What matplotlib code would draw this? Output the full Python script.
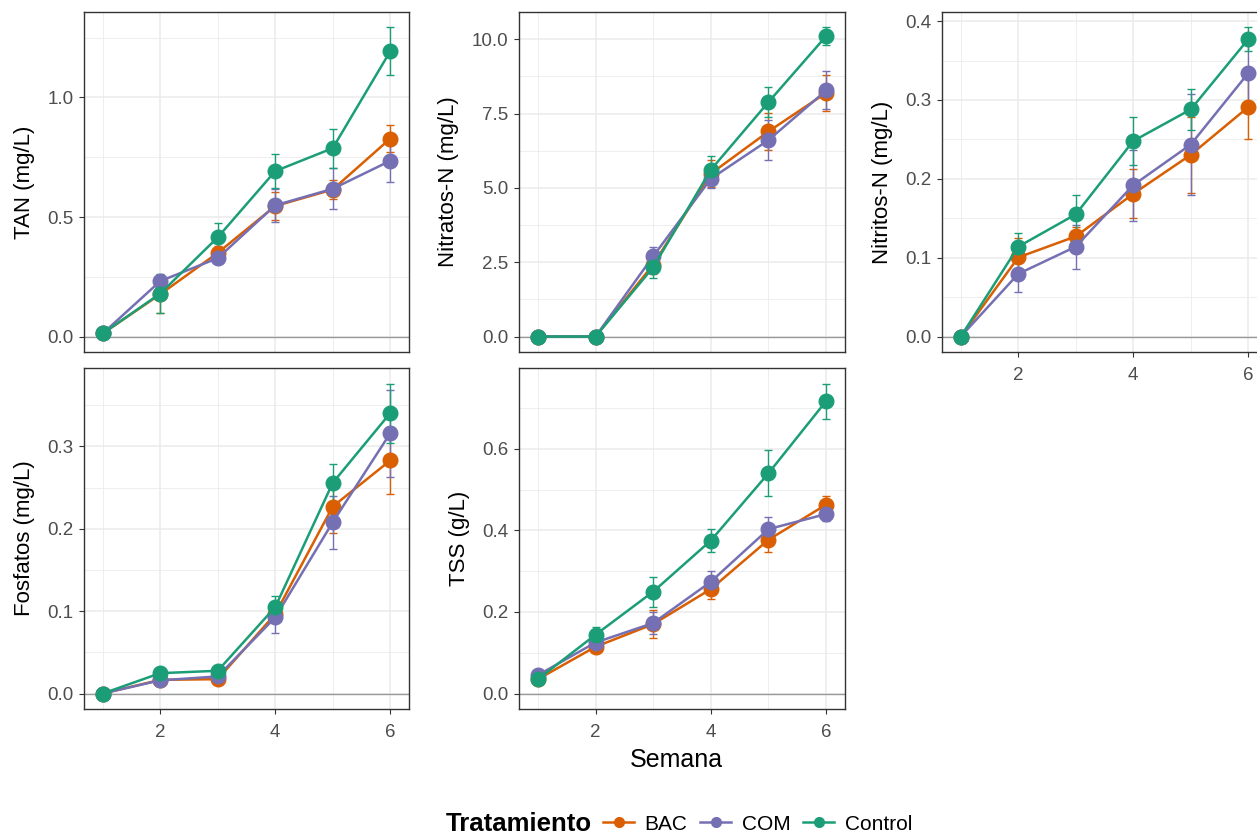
import matplotlib
matplotlib.use("Agg")
import matplotlib.pyplot as plt
from matplotlib.lines import Line2D
from matplotlib.ticker import MultipleLocator, FormatStrFormatter
import numpy as np

# semanas
semana = [1, 2, 3, 4, 5, 6]
tratamientos = ["BAC", "COM", "Control"]
colores = {"BAC": "#D95F02", "COM": "#7570B3", "Control": "#1B9E77"}

# TAN (mg/L)
tan_bac = [0.013, 0.177, 0.35, 0.546, 0.615, 0.828]
tan_bac_sd = [0.0, 0.08, 0.03, 0.06, 0.04, 0.057]
tan_com = [0.013, 0.232, 0.328, 0.549, 0.618, 0.735]
tan_com_sd = [0.0, 0.02, 0.02, 0.07, 0.085, 0.09]
tan_ctl = [0.013, 0.18, 0.415, 0.692, 0.788, 1.193]
tan_ctl_sd = [0.0, 0.08, 0.06, 0.07, 0.081, 0.1]

# Nitratos-N (mg/L)
no3_bac = [0.0, 0.0, 2.42, 5.48, 6.9, 8.2]
no3_bac_sd = [0.0, 0.0, 0.3, 0.45, 0.63, 0.6]
no3_com = [0.0, 0.0, 2.7, 5.31, 6.61, 8.28]
no3_com_sd = [0.0, 0.0, 0.3, 0.3, 0.66, 0.64]
no3_ctl = [0.0, 0.0, 2.33, 5.61, 7.89, 10.11]
no3_ctl_sd = [0.0, 0.0, 0.37, 0.45, 0.5, 0.29]

# Nitritos-N (mg/L)
no2_bac = [0.0, 0.1004, 0.127, 0.181, 0.2305, 0.291]
no2_bac_sd = [0.0, 0.024, 0.012, 0.031, 0.048, 0.04]
no2_com = [0.0, 0.0795, 0.114, 0.192, 0.2435, 0.334]
no2_com_sd = [0.0, 0.023, 0.028, 0.045, 0.064, 0.04]
no2_ctl = [0.0, 0.114, 0.155, 0.248, 0.288, 0.377]
no2_ctl_sd = [0.0, 0.017, 0.024, 0.031, 0.026, 0.015]

# Fosfatos (mg/L)
po4_bac = [0.0, 0.0166, 0.0174, 0.0965, 0.227, 0.283]
po4_bac_sd = [0.0, 0.0, 0.0, 0.01, 0.032, 0.041]
po4_com = [0.0, 0.016, 0.0207, 0.0924, 0.208, 0.316]
po4_com_sd = [0.0, 0.0, 0.0, 0.019, 0.032, 0.053]
po4_ctl = [0.0, 0.0247, 0.0276, 0.105, 0.2558, 0.3405]
po4_ctl_sd = [0.0, 0.0, 0.0, 0.013, 0.023, 0.036]

# TSS (g/L)
tss_bac = [0.035, 0.1146, 0.17, 0.256, 0.377, 0.463]
tss_bac_sd = [0.0, 0.01, 0.035, 0.025, 0.031, 0.021]
tss_com = [0.045, 0.125, 0.1727, 0.274, 0.403, 0.44]
tss_com_sd = [0.0, 0.01, 0.028, 0.027, 0.029, 0.018]
tss_ctl = [0.035, 0.144, 0.2496, 0.375, 0.54, 0.717]
tss_ctl_sd = [0.0, 0.018, 0.037, 0.029, 0.057, 0.043]

paneles = [
    ("TAN (mg/L)", [tan_bac, tan_com, tan_ctl], [tan_bac_sd, tan_com_sd, tan_ctl_sd], 0.5),
    ("Nitratos-N (mg/L)", [no3_bac, no3_com, no3_ctl], [no3_bac_sd, no3_com_sd, no3_ctl_sd], 2.5),
    ("Nitritos-N (mg/L)", [no2_bac, no2_com, no2_ctl], [no2_bac_sd, no2_com_sd, no2_ctl_sd], 0.1),
    ("Fosfatos (mg/L)", [po4_bac, po4_com, po4_ctl], [po4_bac_sd, po4_com_sd, po4_ctl_sd], 0.1),
    ("TSS (g/L)", [tss_bac, tss_com, tss_ctl], [tss_bac_sd, tss_com_sd, tss_ctl_sd], 0.2),
]

plt.rcParams["font.family"] = ["Liberation Sans", "DejaVu Sans"]

W, H = 1257, 836
fig = plt.figure(figsize=(W / 100, H / 100), dpi=100)


def caja(l, t, r, b):
    return [l / W, 1 - b / H, (r - l) / W, (b - t) / H]


cols = [(84, 409), (519, 845), (942, 1267)]
rows = [(12, 352), (368, 709)]
pos = [(0, 0), (0, 1), (0, 2), (1, 0), (1, 1)]

ancho_barra = 0.07
xmin = min(semana) - ancho_barra
xmax = max(semana) + ancho_barra
xpad = 0.05 * (xmax - xmin)

for (ylabel, medias, sds, paso), (r, c) in zip(paneles, pos):
    l, rr = cols[c]
    t, b = rows[r]
    ax = fig.add_axes(caja(l, t, rr, b))

    ax.axhline(0, color="#999999", lw=1.0, zorder=1)
    for trat, m, s in zip(tratamientos, medias, sds):
        col = colores[trat]
        ax.errorbar(semana, m, yerr=s, color=col, lw=1.8, elinewidth=1.0,
                    capsize=3, capthick=1.0, marker="o", markersize=10.5,
                    zorder=3)

    lo = min(0, min(np.min(np.array(m) - np.array(s)) for m, s in zip(medias, sds)))
    hi = max(np.max(np.array(m) + np.array(s)) for m, s in zip(medias, sds))
    pad = 0.05 * (hi - lo)
    ax.set_ylim(lo - pad, hi + pad)
    ax.set_xlim(xmin - xpad, xmax + xpad)

    ax.yaxis.set_major_locator(MultipleLocator(paso))
    ax.yaxis.set_minor_locator(MultipleLocator(paso / 2))
    ax.yaxis.set_major_formatter(FormatStrFormatter("%.1f"))
    ax.xaxis.set_major_locator(MultipleLocator(2))
    ax.xaxis.set_minor_locator(MultipleLocator(1))

    ax.grid(which="major", color="#EBEBEB", lw=1.1, zorder=0)
    ax.grid(which="minor", color="#EBEBEB", lw=0.6, zorder=0)
    ax.set_axisbelow(True)
    for sp in ax.spines.values():
        sp.set_color("#333333")
        sp.set_linewidth(1.0)

    ax.tick_params(which="minor", length=0)
    ax.tick_params(which="major", length=3.5, width=0.8, color="#333333",
                   labelcolor="#4D4D4D", labelsize=13.5, pad=4)
    ax.tick_params(axis="x", which="major", pad=7)
    if r == 0 and c < 2:
        ax.tick_params(axis="x", which="major", length=0, labelbottom=False)
    ax.set_ylabel(ylabel, fontsize=16, color="black", labelpad=9)

fig.text(676 / W, 1 - 760 / H, "Semana", ha="center", va="center", fontsize=18)

handles = [Line2D([0], [0], color=colores[t], lw=1.8, marker="o", markersize=7)
           for t in tratamientos]
fig.legend(handles, tratamientos, loc="center left", ncol=3, frameon=False,
           bbox_to_anchor=(603 / W, 1 - 824 / H), fontsize=15,
           handlelength=1.5, handletextpad=0.5, columnspacing=0.6,
           borderaxespad=0, borderpad=0)
fig.text(592 / W, 1 - 824 / H, "Tratamiento", ha="right", va="center",
         fontsize=18.5, fontweight="bold")

fig.savefig("out.png", dpi=100)
